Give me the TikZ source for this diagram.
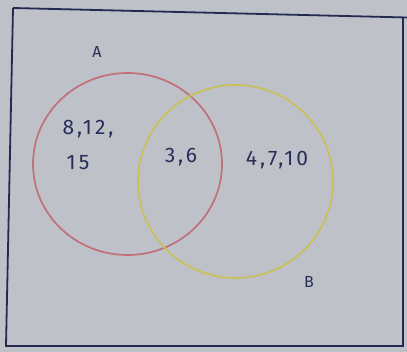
\documentclass[tikz,border=0pt]{standalone}
\usepackage{fontspec}
\setmainfont{Fira Sans}
\newfontfamily\handfont[LetterSpace=14]{Fira Sans}
\definecolor{paper}{RGB}{190,194,200}
\definecolor{ink}{RGB}{40,45,90}
\definecolor{redpen}{RGB}{192,112,122}
\definecolor{yellowpen}{RGB}{202,192,88}
\tikzset{
  lbl/.style={text=ink, font=\handfont\fontsize{21}{24}\selectfont, inner sep=0pt},
  setname/.style={text=ink, font=\handfont\fontsize{16}{18}\selectfont, inner sep=0pt},
  ring/.style={line width=1.7pt}
}
\begin{document}
\begin{tikzpicture}[x=1pt,y=-1pt]
\fill[paper] (0,0) rectangle (407,352);
\useasboundingbox (0,0) rectangle (407,352);
\draw[ink!90!black, line width=1.8pt] (13,8) -- (407,17.5) (13,8) -- (6,346) -- (403,346) -- (403,17);
\draw[ring, redpen] (127.5,164) ellipse [x radius=94.5, y radius=91];
\draw[ring, yellowpen] (235.5,181.5) ellipse [x radius=97.5, y radius=96.5];
\node[setname] (A) at (97,52) {A};
\node[setname] (B) at (309,282) {B};
\node[lbl] (onlyA1) at (88,129) {8,12,};
\node[lbl] (onlyA2) at (78,163) {15};
\node[lbl] (both) at (181,157) {3,6};
\node[lbl] (onlyB) at (277,160) {4,7,10};
\end{tikzpicture}
\end{document}
